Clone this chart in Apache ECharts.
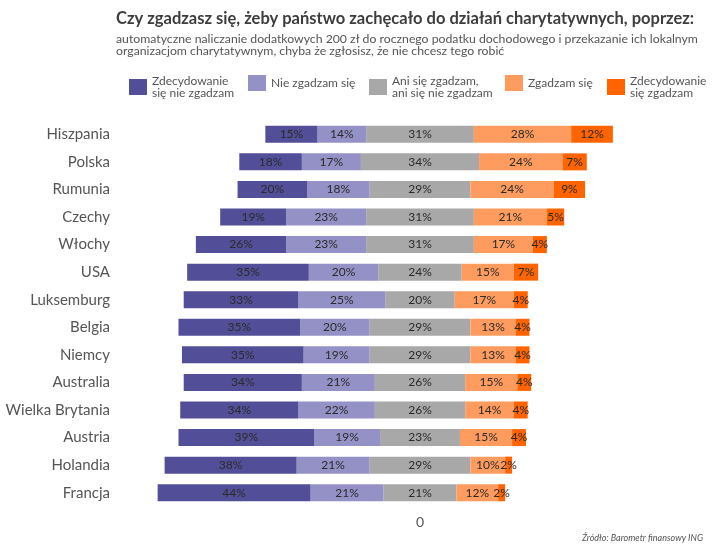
<!DOCTYPE html>
<html>
<head>
<meta charset="utf-8">
<script src="https://cdn.jsdelivr.net/npm/echarts@6/dist/echarts.min.js"></script>
<style>html,body{margin:0;padding:0;background:#fff}#c{width:715px;height:552px}</style>
</head>
<body>
<div id="c"></div>
<script>
const categories = ['Hiszpania','Polska','Rumunia','Czechy','Włochy','USA','Luksemburg','Belgia','Niemcy','Australia','Wielka Brytania','Austria','Holandia','Francja'];
const strongDisagree = [15,18,20,19,26,35,33,35,35,34,34,39,38,44];
const disagree = [14,17,18,23,23,20,25,20,19,21,22,19,21,21];
const neutral = [31,34,29,31,31,24,20,29,29,26,26,23,29,21];
const agree = [28,24,24,21,17,15,17,13,13,15,14,15,10,12];
const strongAgree = [12,7,9,5,4,7,4,4,4,4,4,4,2,2];
const names = ['Zdecydowanie\nsię nie zgadzam','Nie zgadzam się','Ani się zgadzam,\nani się nie zgadzam','Zgadzam się','Zdecydowanie\nsię zgadzam'];
const colors = ['#524f98','#9491c7','#a8a8a8','#fe9b5e','#ff6400'];
const FONT = 'Lato';
const legendLeft = [129, 248, 369, 505, 607];

const chart = echarts.init(document.getElementById('c'));
const lbl = {show:true, color:'#2a2a2a', fontSize:12, fontFamily:FONT, formatter:p=>Math.abs(p.value)+'%'};
function bar(name, color, data, label){
  return {type:'bar', name, stack:'t', barWidth:17, data, itemStyle:{color}, label, emphasis:{disabled:true}};
}
chart.setOption({
  animation:false,
  textStyle:{fontFamily:FONT},
  title:[
    {text:'Czy zgadzasz się, żeby państwo zachęcało do działań charytatywnych, poprzez:', left:116, top:10, padding:0,
     textStyle:{fontSize:16.5, fontWeight:'bold', color:'#3d3d3d', fontFamily:FONT}},
    {text:'automatyczne naliczanie dodatkowych 200 zł do rocznego podatku dochodowego i przekazanie ich lokalnym\norganizacjom charytatywnym, chyba że zgłosisz, że nie chcesz tego robić', left:116, top:33, padding:0,
     textStyle:{fontSize:12.25, fontWeight:'normal', color:'#555', lineHeight:12, fontFamily:FONT}},
    {text:'Źródło: Barometr finansowy ING', right:7, top:529,
     textStyle:{fontSize:9, fontStyle:'italic', fontWeight:'normal', color:'#555', fontFamily:FONT}}
  ],
  legend: names.map((n,i)=>({data:[n], left:legendLeft[i], top:75, padding:0, itemWidth:18, itemHeight:16, icon:'rect',
    textStyle:{fontSize:12, color:'#555', lineHeight:12, fontFamily:FONT}, selectedMode:false})),
  grid:{left:142, right:17, top:120.5, bottom:45.5, containLabel:false},
  xAxis:{type:'value', min:-80, max:80, interval:80,
    axisLine:{show:false}, axisTick:{show:false}, splitLine:{show:false},
    axisLabel:{formatter:v=>v===0?'0':'', fontSize:14, color:'#555', margin:9, fontFamily:FONT}},
  yAxis:{type:'category', data:categories, inverse:true,
    axisLine:{show:false}, axisTick:{show:false},
    axisLabel:{fontSize:15, color:'#555', margin:32, fontFamily:FONT}},
  series:[
    bar(names[2], colors[2], neutral.map(v=>-v/2), {show:false}),
    bar(names[1], colors[1], disagree.map(v=>-v), lbl),
    bar(names[0], colors[0], strongDisagree.map(v=>-v), lbl),
    bar(names[2], colors[2], neutral.map(v=>v/2), {show:true, color:'#2a2a2a', fontSize:12, fontFamily:FONT,
       position:[0,'50%'], align:'center', verticalAlign:'middle', formatter:p=>neutral[p.dataIndex]+'%'}),
    bar(names[3], colors[3], agree, lbl),
    bar(names[4], colors[4], strongAgree, lbl)
  ]
});
</script>
</body>
</html>
